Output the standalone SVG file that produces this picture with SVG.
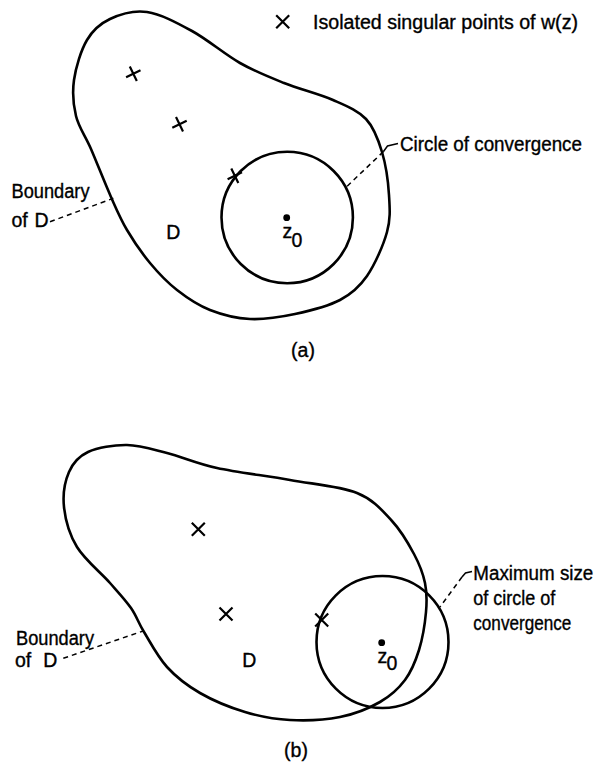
<svg xmlns="http://www.w3.org/2000/svg" width="597" height="763" viewBox="0 0 597 763">
<style>
.curve{fill:none;stroke:#000;stroke-width:2.6;stroke-linejoin:round;stroke-linecap:round}
.lead{fill:none;stroke:#000;stroke-width:1.5}
.dash{fill:none;stroke:#000;stroke-width:1.5;stroke-dasharray:5 4}
.x{fill:none;stroke:#000;stroke-width:2.2;stroke-linecap:butt}
text{font-family:"Liberation Sans",Arial,sans-serif;font-size:19.5px;fill:#000;stroke:#000;stroke-width:0.35}
.mid{text-anchor:middle}
</style>
<defs>
<path id="tx" d="M-7.2,3.5 L7.2,-3.5 M-3.5,-7.2 L3.5,7.2" class="x"/>
<path id="dx" d="M-6.5,-6.5 L6.5,6.5 M-6.5,6.5 L6.5,-6.5" class="x"/>
</defs>
<rect width="597" height="763" fill="#fff"/>

<!-- Part (a) -->
<g id="legend">
<use href="#dx" x="282.7" y="21.7" style="stroke-width:1.8"/>
<text x="313" y="28.5" textLength="265" lengthAdjust="spacingAndGlyphs">Isolated singular points of  w(z)</text>
</g>
<g id="a-boundary">
<path class="curve" d="M147,12 C160.7,14 176.5,22.5 192,31 C207.5,39.5 224.7,54.3 240,63 C255.3,71.7 268.5,76.8 284,83 C299.5,89.2 319.3,94 333,100 C346.7,106 357.8,110.3 366,119 C374.2,127.7 378.2,139.3 382,152 C385.8,164.7 388.2,181.7 389,195 C389.8,208.3 390.7,218.5 387,232 C383.3,245.5 374.8,264.7 367,276 C359.2,287.3 352,293.7 340,300 C328,306.3 310,310.8 295,314 C280,317.2 264.2,319.7 250,319 C235.8,318.3 222.2,314.8 210,310 C197.8,305.2 187,297.8 177,290 C167,282.2 158.3,273 150,263 C141.7,253 133.5,241 127,230 C120.5,219 117,210.5 111,197 C105,183.5 96.8,162.5 91,149 C85.2,135.5 78.8,127.5 76,116 C73.2,104.5 72.2,92.7 74,80 C75.8,67.3 81,50.2 87,40 C93,29.8 100,23.7 110,19 C120,14.3 133.3,10 147,12 Z"/>
</g>
<g id="a-circle">
<circle class="curve" cx="287.2" cy="217.5" r="65.7"/>
<circle cx="286.7" cy="217.7" r="3.4" fill="#000"/>
<text x="282.5" y="237.5">z</text>
<text x="291.5" y="246.5">0</text>
</g>
<g id="a-points">
<use href="#tx" x="133.3" y="73.8"/>
<use href="#tx" x="179.5" y="124.3"/>
<use href="#tx" x="234.8" y="175.8"/>
</g>
<g id="a-labels">
<text x="173.3" y="239" class="mid">D</text>
<text x="11.5" y="197.5" textLength="78" lengthAdjust="spacingAndGlyphs">Boundary</text>
<text x="11.5" y="226.5">of</text>
<text x="34.5" y="226.5">D</text>
<text x="400" y="150.5" textLength="182" lengthAdjust="spacingAndGlyphs">Circle of convergence</text>
<text x="303" y="356.5" class="mid">(a)</text>
</g>
<g id="a-connectors">
<path class="dash" d="M50,221.7 L113.3,198.3"/>
<path class="lead" d="M398,143.5 L387.5,146 L383.3,151.7"/>
<path class="dash" d="M383.3,151.7 L346.7,186.7"/>
</g>

<!-- Part (b) -->
<g id="b-boundary">
<path class="curve" d="M127,445 C140.2,445.2 152,449.2 167,453 C182,456.8 196.5,463.5 217,468 C237.5,472.5 266.7,475.8 290,480 C313.3,484.2 340,486.2 357,493 C374,499.8 382.5,510.8 392,521 C401.5,531.2 408.5,543.7 414,554 C419.5,564.3 423,573.3 425,583 C427,592.7 427,600.8 426,612 C425,623.2 422.5,638.7 419,650 C415.5,661.3 411.5,671.3 405,680 C398.5,688.7 390.8,695.8 380,702 C369.2,708.2 355,714 340,717 C325,720 305.8,720.8 290,720 C274.2,719.2 260,716.5 245,712 C230,707.5 213,700.5 200,693 C187,685.5 176.3,677.2 167,667 C157.7,656.8 150,641.8 144,632 C138,622.2 136.7,616.2 131,608 C125.3,599.8 119,593.2 110,583 C101,572.8 84.7,559.7 77,547 C69.3,534.3 65.3,519.5 64,507 C62.7,494.5 65,481.2 69,472 C73,462.8 78.3,456.5 88,452 C97.7,447.5 113.8,444.8 127,445 Z"/>
</g>
<g id="b-circle">
<circle class="curve" cx="382.5" cy="642" r="66"/>
<circle cx="381.7" cy="642.7" r="3.4" fill="#000"/>
<text x="377.5" y="662.5">z</text>
<text x="386.5" y="669.5">0</text>
</g>
<g id="b-points">
<use href="#dx" x="198.3" y="529.3"/>
<use href="#dx" x="226" y="614"/>
<use href="#dx" x="321.7" y="620"/>
</g>
<g id="b-labels">
<text x="249.3" y="666.7" class="mid">D</text>
<text x="16" y="645" textLength="78" lengthAdjust="spacingAndGlyphs">Boundary</text>
<text x="15" y="666.7">of</text>
<text x="43.3" y="666.7">D</text>
<text x="473.3" y="580" textLength="120" lengthAdjust="spacingAndGlyphs">Maximum size</text>
<text x="473.3" y="605" textLength="82" lengthAdjust="spacingAndGlyphs">of circle of</text>
<text x="473.3" y="630" textLength="98" lengthAdjust="spacingAndGlyphs">convergence</text>
<text x="296" y="756.5" class="mid">(b)</text>
</g>
<g id="b-connectors">
<path class="dash" d="M63.3,658.3 L144,630.7"/>
<path class="lead" d="M472,571.5 L465.5,573 L462,577"/>
<path class="dash" d="M462,577 L440,607"/>
</g>
</svg>
